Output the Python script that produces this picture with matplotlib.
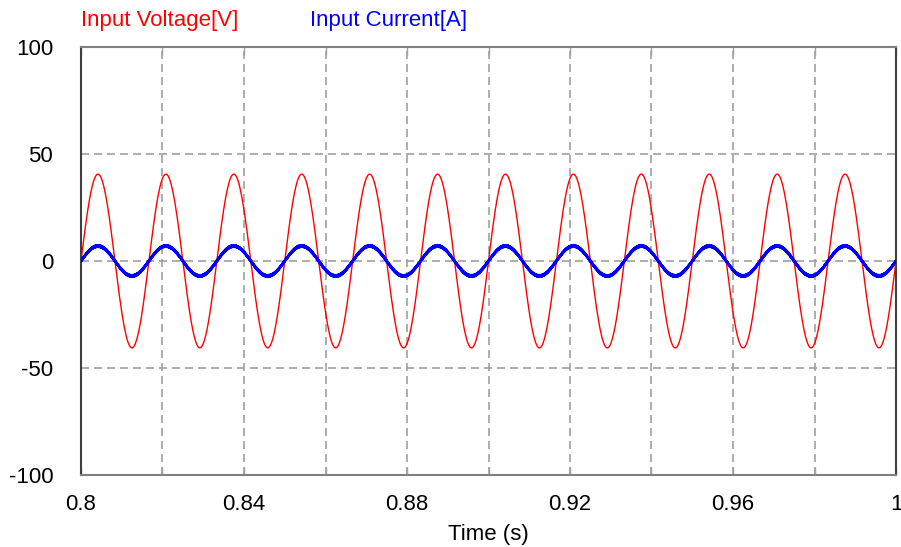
import numpy as np
import matplotlib.pyplot as plt

plt.rcParams['font.family'] = ['Liberation Sans', 'DejaVu Sans']
plt.rcParams['axes.unicode_minus'] = False

# simulation window and waveform parameters
t_start, t_stop = 0.8, 1.0
line_freq = 60.0            # Hz
v_peak = 40.6               # input voltage amplitude [V]
i_peak = 7.0                # input current amplitude [A]
ripple_freqs = [10000.0, 23300.0]   # switching ripple components [Hz]
ripple_amps = [0.3, 0.25]           # ripple amplitudes [A]

x_ticks = [0.8, 0.84, 0.88, 0.92, 0.96, 1.0]
x_tick_labels = ['0.8', '0.84', '0.88', '0.92', '0.96', '1']
x_grid = [0.82, 0.84, 0.86, 0.88, 0.90, 0.92, 0.94, 0.96, 0.98]
y_ticks = [-100, -50, 0, 50, 100]
y_grid = [-50, 0, 50]

t = np.linspace(t_start, t_stop, 20001)
v_in = v_peak * np.sin(2 * np.pi * line_freq * t)
i_in = i_peak * np.sin(2 * np.pi * line_freq * t)
for f, a in zip(ripple_freqs, ripple_amps):
    i_in += a * np.sin(2 * np.pi * f * t)

fig = plt.figure(figsize=(9.01, 5.47), dpi=100)
ax = fig.add_axes([81 / 901, 1 - 475 / 547, 815 / 901, 428 / 547])

for xg in x_grid:
    ax.axvline(xg, color='#a0a0a0', lw=1.2, ls=(0, (4.8, 3)), zorder=1)
for yg in y_grid:
    ax.axhline(yg, color='#a0a0a0', lw=1.2, ls=(0, (4.8, 3)), zorder=1)

ax.plot(t, v_in, color='#ff0000', lw=1.0, zorder=3)
ax.plot(t, i_in, color='#0000ff', lw=1.4, zorder=4)

ax.set_xlim(t_start, t_stop)
ax.set_ylim(-100, 100)
ax.set_xticks(x_ticks)
ax.set_xticklabels(x_tick_labels)
ax.set_xticks(x_grid, minor=True)
ax.set_yticks(y_ticks)
ax.tick_params(axis='x', which='both', direction='in', top=True, length=6,
               color='#a0a0a0', width=1, labelsize=16, pad=13.5)
ax.tick_params(axis='y', length=0, labelsize=16, pad=20)
ax.set_xlabel('Time (s)', fontsize=16, labelpad=7)

ax.spines['left'].set_color('#404040')
ax.spines['right'].set_color('#404040')
ax.spines['top'].set_color('#808080')
ax.spines['bottom'].set_color('#808080')
for s in ax.spines.values():
    s.set_linewidth(1.5)

fig.text(81 / 901, 1 - 26 / 547, 'Input Voltage[V]', color='#ff0000',
         fontsize=16, va='baseline', ha='left')
fig.text(310 / 901, 1 - 26 / 547, 'Input Current[A]', color='#0000ff',
         fontsize=16, va='baseline', ha='left')

fig.savefig('out.png', dpi=100)
